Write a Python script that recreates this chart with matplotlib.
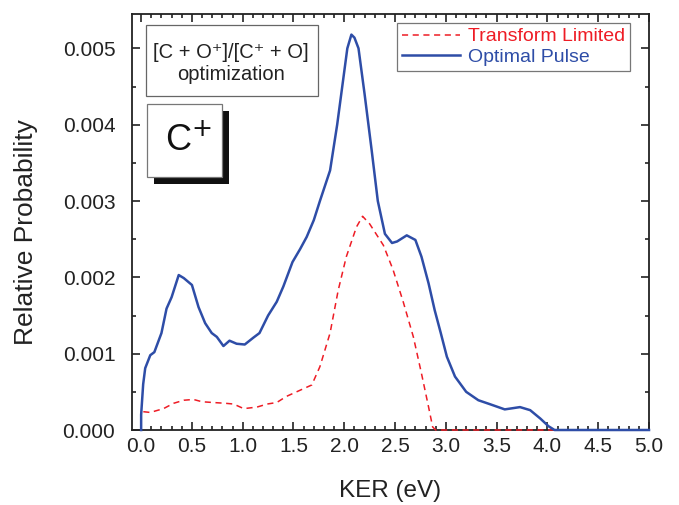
import matplotlib
matplotlib.use("Agg")
import matplotlib.pyplot as plt
from matplotlib.patches import Rectangle
from matplotlib.ticker import MultipleLocator, FormatStrFormatter

plt.rcParams['font.family'] = ['Liberation Sans', 'DejaVu Sans']

# Optimal Pulse (blue solid)
opt_x = [0.0, 0.0, 0.02, 0.04, 0.09, 0.13, 0.20, 0.25, 0.30, 0.37, 0.42, 0.50, 0.565, 0.63,
         0.695, 0.745, 0.81, 0.87, 0.94, 1.02, 1.105, 1.165, 1.25, 1.335, 1.40, 1.49,
         1.565, 1.63, 1.70, 1.76, 1.86, 1.93, 1.99, 2.03, 2.07, 2.10, 2.14, 2.20, 2.27,
         2.33, 2.40, 2.47, 2.52, 2.615, 2.70, 2.76, 2.83, 2.89, 2.95, 3.01, 3.09, 3.20,
         3.32, 3.43, 3.58, 3.73, 3.83, 3.93, 4.01, 4.07, 4.5, 5.0]
opt_y = [0.0, 0.0002, 0.0006, 0.00081, 0.00098, 0.00102, 0.00127, 0.00159, 0.00174, 0.00203,
         0.00199, 0.0019, 0.00161, 0.0014, 0.00127, 0.00122, 0.0011, 0.00117, 0.00113,
         0.00112, 0.00121, 0.00127, 0.0015, 0.00168, 0.00188, 0.0022, 0.00237, 0.00253,
         0.00275, 0.0030, 0.0034, 0.0040, 0.0046, 0.0050, 0.00518, 0.00514, 0.0050,
         0.0044, 0.00366, 0.0030, 0.00257, 0.00245, 0.00247, 0.00255, 0.00249, 0.00227,
         0.00192, 0.00157, 0.00127, 0.00096, 0.0007, 0.0005, 0.00039, 0.00034, 0.00027,
         0.0003, 0.00026, 0.00015, 0.00005, 0.0, 0.0, 0.0]

# Transform Limited (red dashed)
tl_x = [0.0, 0.0, 0.02, 0.09, 0.22, 0.32, 0.42, 0.515, 0.60, 0.71, 0.83, 0.91, 1.01, 1.14,
        1.24, 1.335, 1.43, 1.53, 1.68, 1.76, 1.86, 1.94, 2.02, 2.12, 2.18, 2.25, 2.385,
        2.48, 2.58, 2.68, 2.76, 2.83, 2.87, 2.90, 3.5, 4.0, 4.5, 5.0]
tl_y = [0.0, 0.00025, 0.00024, 0.00023, 0.00028, 0.00035, 0.00039, 0.0004, 0.00037, 0.00036,
        0.00035, 0.00034, 0.00028, 0.0003, 0.00034, 0.00036, 0.00044, 0.0005, 0.00059,
        0.00083, 0.00127, 0.00183, 0.00227, 0.00266, 0.0028, 0.0027, 0.00242, 0.0021,
        0.00168, 0.00122, 0.00074, 0.0003, 0.00004, 0.0, 0.0, 0.0, 0.0, 0.0]

BLUE = '#2E4DA7'
RED = '#EE1C25'
INK = '#222222'

fig = plt.figure(figsize=(6.79, 5.05), dpi=100)
ax = fig.add_axes([132/679, 1-430/505, (649-132)/679, (430-14)/505])

ax.plot(tl_x, tl_y, color=RED, lw=1.1, ls=(0, (4, 3)), label='Transform Limited', zorder=3, clip_on=False)
ax.plot(opt_x, opt_y, color=BLUE, lw=1.8, label='Optimal Pulse', zorder=4, clip_on=False)

ax.set_xlim(-0.09, 5.0)
ax.set_ylim(0.0, 0.00545)

ax.xaxis.set_major_locator(MultipleLocator(0.5))
ax.xaxis.set_minor_locator(MultipleLocator(0.1))
ax.yaxis.set_major_locator(MultipleLocator(0.001))
ax.yaxis.set_minor_locator(MultipleLocator(0.0005))
ax.xaxis.set_major_formatter(FormatStrFormatter('%.1f'))
ax.yaxis.set_major_formatter(FormatStrFormatter('%.3f'))
ax.tick_params(which='both', direction='in', top=True, right=True, width=1.2, labelsize=15,
               color=INK, labelcolor=INK)
ax.tick_params(which='major', length=6)
ax.tick_params(axis='x', which='major', pad=5)
ax.tick_params(axis='y', which='major', pad=12)
ax.tick_params(which='minor', length=3)
for s in ax.spines.values():
    s.set_linewidth(1.3)
    s.set_color(INK)

ax.set_xlabel('KER (eV)', fontsize=17.5, color=INK, va='center')
ax.set_ylabel('Relative Probability', fontsize=19, color=INK, va='center')
ax.xaxis.set_label_coords((390.5-132)/517, (430-491)/416)
ax.yaxis.set_label_coords((26-132)/517, (430-232)/416)

leg = ax.legend(loc='upper right', bbox_to_anchor=(630/679, 1-23/505), bbox_transform=fig.transFigure,
                fontsize=14, frameon=True, fancybox=False, handlelength=3.0, handletextpad=0.4,
                borderpad=0.25, labelspacing=0.15, borderaxespad=0)
leg.get_frame().set_edgecolor('#555555')
leg.get_frame().set_linewidth(0.9)
for t, c in zip(leg.get_texts(), [RED, BLUE]):
    t.set_color(c)

# optimization annotation box
fig.patches.append(Rectangle((146/679, 1-96/505), (318-146)/679, (96-25)/505,
                             transform=fig.transFigure, facecolor='white', edgecolor='#666666', lw=0.9))
fig.text(231/679, 1-52/505, '[C + O\u207a]/[C\u207a + O]', ha='center', va='center', fontsize=14.5, color=INK)
fig.text(231/679, 1-75/505, 'optimization', ha='center', va='center', fontsize=14.5, color=INK)

# C+ box with shadow
fig.patches.append(Rectangle((154/679, 1-184/505), 75/679, 73/505,
                             transform=fig.transFigure, facecolor='#111111', edgecolor='none'))
fig.patches.append(Rectangle((147/679, 1-177/505), 75/679, 73/505,
                             transform=fig.transFigure, facecolor='white', edgecolor='#777777', lw=0.9))
fig.text(188/679, 1-141/505, r'C$^{+}$', ha='center', va='center', fontsize=26, color='#111111')

fig.savefig('out.png', dpi=100)
